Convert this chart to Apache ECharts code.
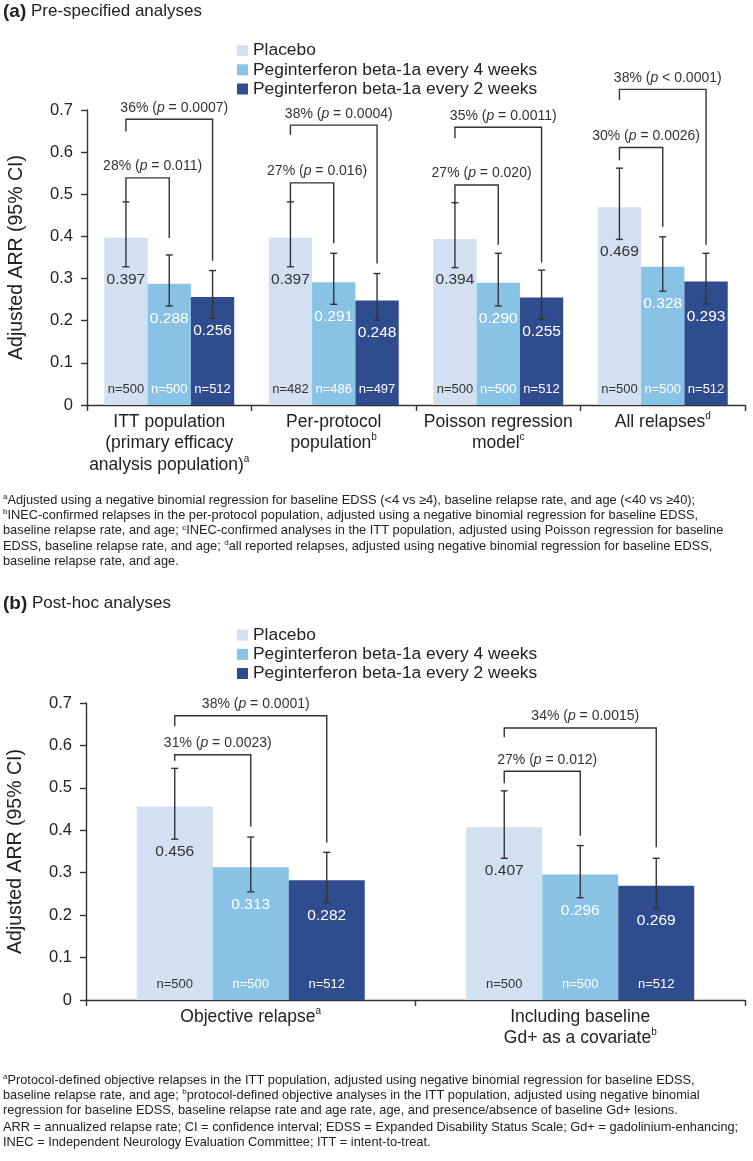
<!DOCTYPE html>
<html><head><meta charset="utf-8">
<script src="https://cdn.jsdelivr.net/npm/echarts@6/dist/echarts.min.js"></script>
<style>html,body{margin:0;padding:0;background:#fff}#c{width:753px;height:1161px}</style>
</head><body><div id="c"></div>
<script>
// ---------- shared ----------
const seriesNames = ['Placebo', 'Peginterferon beta-1a every 4 weeks', 'Peginterferon beta-1a every 2 weeks'];
const yTicks = [0, 0.1, 0.2, 0.3, 0.4, 0.5, 0.6, 0.7];

// ---------- panel (a) ----------
const catsA = ['ITT population\n(primary efficacy\nanalysis population){s|a}', 'Per-protocol\npopulation{s|b}', 'Poisson regression\nmodel{s|c}', 'All relapses{s|d}'];
const placeboA = [0.397, 0.397, 0.394, 0.469];
const q4wA = [0.288, 0.291, 0.290, 0.328];
const q2wA = [0.256, 0.248, 0.255, 0.293];
const placeboLoA = [0.328, 0.328, 0.326, 0.393];
const placeboHiA = [0.482, 0.482, 0.480, 0.562];
const q4wLoA = [0.235, 0.239, 0.235, 0.270];
const q4wHiA = [0.356, 0.360, 0.360, 0.399];
const q2wLoA = [0.206, 0.202, 0.203, 0.240];
const q2wHiA = [0.319, 0.312, 0.320, 0.360];
const nPlaceboA = [500, 482, 500, 500];
const nQ4wA = [500, 486, 500, 500];
const nQ2wA = [512, 497, 512, 512];
// comparison brackets (value-axis units)
const cmp4PctA = ['28%', '27%', '27%', '30%'];
const cmp4PA = ['= 0.011', '= 0.016', '= 0.020', '= 0.0026'];
const cmp4LevelA = [0.539, 0.527, 0.522, 0.611];
const cmp4LeftA = [0.482, 0.482, 0.480, 0.581];
const cmp4RightA = [0.396, 0.384, 0.380, 0.423];
const cmp2PctA = ['36%', '38%', '35%', '38%'];
const cmp2PA = ['= 0.0007', '= 0.0004', '= 0.0011', '< 0.0001'];
const cmp2LevelA = [0.678, 0.664, 0.659, 0.749];
const cmp2LeftA = [0.649, 0.641, 0.633, 0.724];
const cmp2RightA = [0.342, 0.336, 0.338, 0.380];

// ---------- panel (b) ----------
const catsB = ['Objective relapse{s|a}', 'Including baseline\nGd+ as a covariate{s|b}'];
const placeboB = [0.456, 0.407];
const q4wB = [0.313, 0.296];
const q2wB = [0.282, 0.269];
const placeboLoB = [0.379, 0.334];
const placeboHiB = [0.546, 0.493];
const q4wLoB = [0.255, 0.241];
const q4wHiB = [0.384, 0.364];
const q2wLoB = [0.229, 0.216];
const q2wHiB = [0.348, 0.334];
const nPlaceboB = [500, 500];
const nQ4wB = [500, 500];
const nQ2wB = [512, 512];
const cmp4PctB = ['31%', '27%'];
const cmp4PB = ['= 0.0023', '= 0.012'];
const cmp4LevelB = [0.578, 0.539];
const cmp4LeftB = [0.564, 0.511];
const cmp4RightB = [0.409, 0.387];
const cmp2PctB = ['38%', '34%'];
const cmp2PB = ['= 0.0001', '= 0.0015'];
const cmp2LevelB = [0.670, 0.641];
const cmp2LeftB = [0.645, 0.619];
const cmp2RightB = [0.371, 0.360];

// ---------- footnotes ----------
const footA = [
  '{s|a}Adjusted using a negative binomial regression for baseline EDSS (<4 vs \u22654), baseline relapse rate, and age (<40 vs \u226540);',
  '{s|b}INEC-confirmed relapses in the per-protocol population, adjusted using a negative binomial regression for baseline EDSS,',
  'baseline relapse rate, and age; {s|c}INEC-confirmed analyses in the ITT population, adjusted using Poisson regression for baseline',
  'EDSS, baseline relapse rate, and age; {s|d}all reported relapses, adjusted using negative binomial regression for baseline EDSS,',
  'baseline relapse rate, and age.'
];
const footB = [
  '{s|a}Protocol-defined objective relapses in the ITT population, adjusted using negative binomial regression for baseline EDSS,',
  'baseline relapse rate, and age; {s|b}protocol-defined objective analyses in the ITT population, adjusted using negative binomial',
  'regression for baseline EDSS, baseline relapse rate and age rate, age, and presence/absence of baseline Gd+ lesions.'
];
const footAbbr = [
  'ARR = annualized relapse rate; CI = confidence interval; EDSS = Expanded Disability Status Scale; Gd+ = gadolinium-enhancing;',
  'INEC = Independent Neurology Evaluation Committee; ITT = intent-to-treat.'
];

// ---------- styling ----------
const FONT = "'Liberation Sans', Arial, Helvetica, sans-serif";
const colors = ['#d2e1f2', '#88c2e5', '#2f4c8f'];
const ink = '#222';
const lineInk = '#333';

function barSeries(gi, vals, nArr, s, gap) {
  return {
    type: 'bar', name: seriesNames[s], xAxisIndex: gi, yAxisIndex: gi,
    data: vals, barGap: '0%', barCategoryGap: gap,
    itemStyle: { color: colors[s] },
    label: {
      show: true, position: 'insideBottom', distance: 9,
      formatter: p => 'n=' + nArr[p.dataIndex],
      color: s === 0 ? '#333' : '#fff', fontSize: 13, fontFamily: FONT
    },
    emphasis: { disabled: true }, silent: true
  };
}

function errSeries(gi, frac, lo, hi, val) {
  const data = [];
  for (let s = 0; s < 3; s++) for (let c = 0; c < lo[s].length; c++) data.push([c, lo[s][c], hi[s][c], val[s][c], s]);
  return {
    type: 'custom', xAxisIndex: gi, yAxisIndex: gi, clip: false, silent: true, z: 5,
    data, encode: { x: 0, y: [1, 2] },
    renderItem(params, api) {
      const c = api.value(0), s = api.value(4);
      const bw = api.size([1, 0])[0] * frac / 3;
      const pLo = api.coord([c, api.value(1)]);
      const pHi = api.coord([c, api.value(2)]);
      const x = pLo[0] + (s - 1) * bw;
      const st = { stroke: lineInk, lineWidth: 1.4 };
      return {
        type: 'group', children: [
          { type: 'line', shape: { x1: x, y1: pLo[1], x2: x, y2: pHi[1] }, style: st },
          { type: 'line', shape: { x1: x - 3.5, y1: pLo[1], x2: x + 3.5, y2: pLo[1] }, style: st },
          { type: 'line', shape: { x1: x - 3.5, y1: pHi[1], x2: x + 3.5, y2: pHi[1] }, style: st },
          { type: 'text', x: x, y: pLo[1] + 12.5, style: {
              text: api.value(3).toFixed(3), fill: s === 0 ? '#333' : '#fff',
              fontSize: 15.5, fontFamily: FONT, align: 'center', verticalAlign: 'middle' } }
        ]
      };
    }
  };
}

function bracketSeries(gi, frac, rightS, level, left, right, pct, pv) {
  const data = level.map((v, c) => [c, v, left[c], right[c]]);
  return {
    type: 'custom', xAxisIndex: gi, yAxisIndex: gi, clip: false, silent: true, z: 6,
    data, encode: { x: 0, y: 1 },
    renderItem(params, api) {
      const c = api.value(0);
      const bw = api.size([1, 0])[0] * frac / 3;
      const pL = api.coord([c, api.value(1)]);
      const xL = pL[0] - bw, xR = pL[0] + (rightS - 1) * bw;
      const yTop = pL[1];
      const yLb = api.coord([c, api.value(2)])[1];
      const yRb = api.coord([c, api.value(3)])[1];
      return {
        type: 'group', children: [
          { type: 'polyline', shape: { points: [[xL, yLb], [xL, yTop], [xR, yTop], [xR, yRb]] },
            style: { stroke: lineInk, lineWidth: 1.4, fill: null } },
          { type: 'text', x: (xL + xR) / 2 + 5, y: yTop - 11.5, style: {
              text: pct[params.dataIndex] + ' ({i|p} ' + pv[params.dataIndex] + ')',
              rich: { i: { fontStyle: 'italic', fontSize: 14, fontFamily: FONT, fill: lineInk } },
              fill: lineInk, fontSize: 14, fontFamily: FONT, align: 'center', verticalAlign: 'middle' } }
        ]
      };
    }
  };
}

function xAxisCfg(gi, cats) {
  return {
    type: 'category', gridIndex: gi, data: cats,
    axisLine: { lineStyle: { color: lineInk, width: 1.4 } },
    axisTick: { show: true, length: 6, lineStyle: { color: lineInk, width: 1.4 }, interval: 0 },
    axisLabel: {
      interval: 0, color: ink, fontSize: 17.5, fontFamily: FONT, lineHeight: 21.5, margin: 6,
      rich: { s: { fontSize: 10, verticalAlign: 'top', lineHeight: 12, fontFamily: FONT, color: ink } }
    }
  };
}
function yAxisCfg(gi) {
  return {
    type: 'value', gridIndex: gi, min: yTicks[0], max: yTicks[yTicks.length - 1], interval: 0.1,
    name: 'Adjusted ARR (95% CI)', nameLocation: 'middle', nameGap: 60,
    nameTextStyle: { fontSize: 19.5, color: ink, fontFamily: FONT },
    axisLine: { show: true, lineStyle: { color: lineInk, width: 1.4 } },
    axisTick: { show: true, length: 6, lineStyle: { color: lineInk, width: 1.4 } },
    axisLabel: { color: ink, fontSize: 16.5, fontFamily: FONT, margin: 14,
      formatter: v => String(Math.round(v * 10) / 10) },
    splitLine: { show: false }
  };
}

const graphics = [];
function title(y, letter, text) {
  graphics.push({ type: 'text', left: 3, top: y - 11, style: {
    text: '{b|(' + letter + ')} ' + text, fontSize: 17, fontFamily: FONT, fill: ink,
    rich: { b: { fontWeight: 'bold', fontSize: 19, fontFamily: FONT, fill: ink } } } });
}
title(13, 'a', 'Pre-specified analyses');
title(605, 'b', 'Post-hoc analyses');
function footLines(lines, y0, pitch) {
  lines.forEach((t, i) => {
    graphics.push({ type: 'text', left: 3, top: y0 + i * pitch - 7.5, style: {
      text: t, fontSize: 12.8, fontFamily: FONT, fill: ink, lineHeight: 15,
      rich: { s: { fontSize: 8, verticalAlign: 'top', lineHeight: 9, fontFamily: FONT, fill: ink } } } });
  });
}
footLines(footA, 500, 15.4);
footLines(footB, 1080, 15.3);
footLines(footAbbr, 1127.3, 15.4);

const chart = echarts.init(document.getElementById('c'), null, { renderer: 'canvas' });
const fracA = 0.79, fracB = 0.692;
const legendBase = { data: seriesNames, orient: 'vertical', left: 237, padding: 0, itemWidth: 11, itemHeight: 11, itemGap: 0,
  icon: 'rect', selectedMode: false, textStyle: { fontSize: 17.4, color: ink, fontFamily: FONT, lineHeight: 19.2 } };
chart.setOption({
  animation: false,
  backgroundColor: '#fff',
  textStyle: { fontFamily: FONT },
  legend: [
    Object.assign({}, legendBase, { top: 41 }),
    Object.assign({}, legendBase, { top: 625.5 })
  ],
  grid: [
    { left: 87, top: 110, width: 658, height: 295, containLabel: false, outerBoundsMode: 'none' },
    { left: 86, top: 703, width: 659, height: 297, containLabel: false, outerBoundsMode: 'none' }
  ],
  xAxis: [xAxisCfg(0, catsA), xAxisCfg(1, catsB)],
  yAxis: [yAxisCfg(0), yAxisCfg(1)],
  graphic: graphics,
  series: [
    barSeries(0, placeboA, nPlaceboA, 0, '21%'),
    barSeries(0, q4wA, nQ4wA, 1, '21%'),
    barSeries(0, q2wA, nQ2wA, 2, '21%'),
    errSeries(0, fracA, [placeboLoA, q4wLoA, q2wLoA], [placeboHiA, q4wHiA, q2wHiA], [placeboA, q4wA, q2wA]),
    bracketSeries(0, fracA, 1, cmp4LevelA, cmp4LeftA, cmp4RightA, cmp4PctA, cmp4PA),
    bracketSeries(0, fracA, 2, cmp2LevelA, cmp2LeftA, cmp2RightA, cmp2PctA, cmp2PA),
    barSeries(1, placeboB, nPlaceboB, 0, '30.8%'),
    barSeries(1, q4wB, nQ4wB, 1, '30.8%'),
    barSeries(1, q2wB, nQ2wB, 2, '30.8%'),
    errSeries(1, fracB, [placeboLoB, q4wLoB, q2wLoB], [placeboHiB, q4wHiB, q2wHiB], [placeboB, q4wB, q2wB]),
    bracketSeries(1, fracB, 1, cmp4LevelB, cmp4LeftB, cmp4RightB, cmp4PctB, cmp4PB),
    bracketSeries(1, fracB, 2, cmp2LevelB, cmp2LeftB, cmp2RightB, cmp2PctB, cmp2PB)
  ]
});
</script></body></html>
